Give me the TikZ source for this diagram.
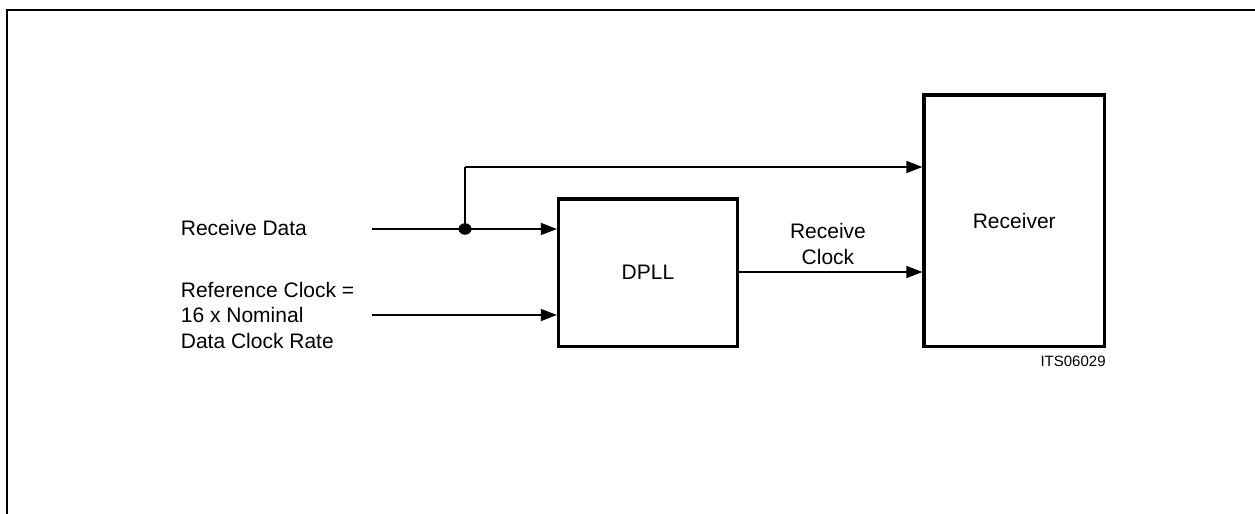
\documentclass[tikz,border=0pt]{standalone}
\usepackage{fontspec}
\setmainfont{Liberation Sans}
\usetikzlibrary{arrows.meta}
\begin{document}
\begin{tikzpicture}[x=0.5pt,y=-0.5pt,
  lbl/.style={inner sep=0pt,font=\fontsize{10.5}{12.75}\selectfont},
  blk/.style={draw,line width=1.6pt,inner sep=0pt,font=\fontsize{10.5}{12.75}\selectfont},
  conn/.style={line width=0.65pt,-{Triangle[length=8pt,width=6pt]}},
  wire/.style={line width=0.65pt}]
\useasboundingbox (0,0) rectangle (1255,514);
% frame
\draw[line width=1pt] (1255,9.5) -- (6.5,9.5) -- (6.5,514);
% blocks
\node[blk,minimum width=179pt*0.5,minimum height=147.5pt*0.5] (dpll) at (648,272.75) {DPLL};
\node[blk,minimum width=180.5pt*0.5,minimum height=251.5pt*0.5] (rx) at (1014.25,220.75) {Receiver};
% labels
\node[lbl,anchor=base west] (rd) at (180.5,235) {Receive Data};
\node[lbl,anchor=north west,align=left] (rc) at (180.5,281.5) {Reference Clock =\\16 x Nominal\\Data Clock Rate};
\node[lbl,anchor=north,align=center] (rcl) at (828,223) {Receive\\Clock};
\node[inner sep=0pt,anchor=base east,font=\fontsize{7.5}{9}\selectfont] (its) at (1106,366.5) {ITS06029};
% connector coordinates
\coordinate (rdin) at (372,229);
\coordinate (rcin) at (372,315);
\coordinate (jn) at (465,229);
\coordinate (up) at (465,167);
% connectors
\draw[conn] (rdin) -- (rdin -| dpll.west);
\draw[conn] (rcin) -- (rcin -| dpll.west);
\draw[wire] (jn) -- (up);
\draw[conn] (up) -- (up -| rx.west);
\draw[conn] (dpll.east |- 0,272) -- (rx.west |- 0,272);
\fill (jn) ellipse [x radius=6.5,y radius=5.75];
\end{tikzpicture}
\end{document}
